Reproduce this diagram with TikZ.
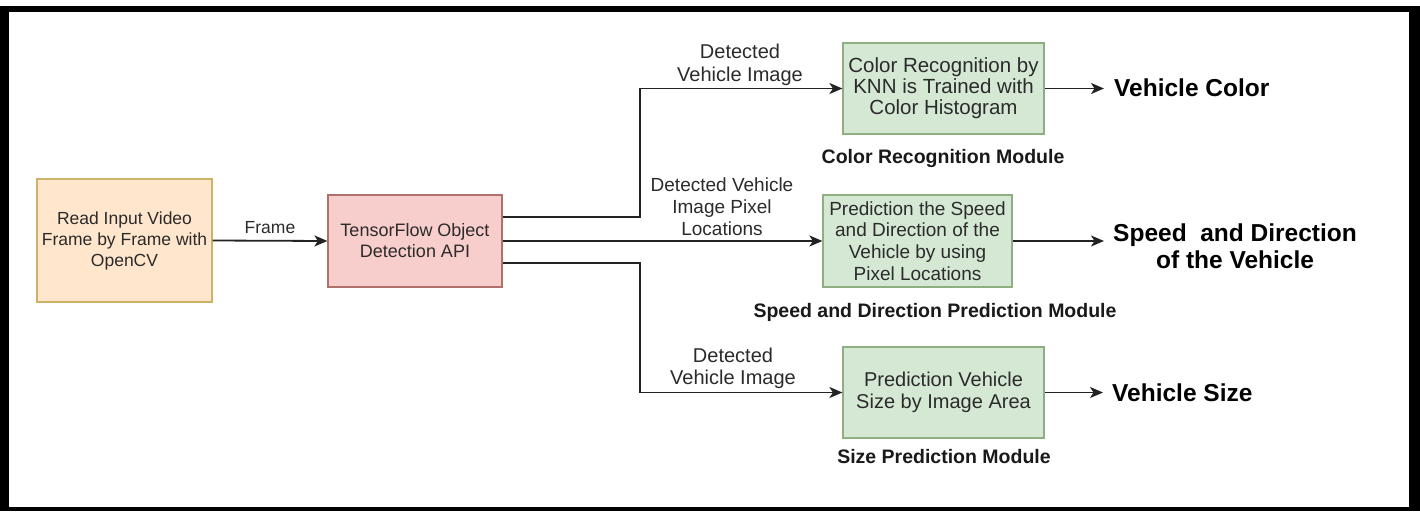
\documentclass[tikz,border=0pt]{standalone}
\usepackage{fontspec}
\setmainfont{Liberation Sans}
\usetikzlibrary{arrows.meta,calc}
\definecolor{txt}{HTML}{2B2B2B}
\definecolor{orfill}{HTML}{FFE6CC}
\definecolor{ordraw}{HTML}{CDB36A}
\definecolor{rdfill}{HTML}{F8CECC}
\definecolor{rddraw}{HTML}{B0706C}
\definecolor{grfill}{HTML}{D5E8D4}
\definecolor{grdraw}{HTML}{8FAE82}
\definecolor{ln}{HTML}{222222}
\tikzset{
  boxtext/.style={text=txt, align=center, inner sep=0pt, line width=1.2pt},
  orbox/.style={boxtext, font=\fontsize{17.5}{21}\selectfont, fill=orfill, draw=ordraw, minimum width=175pt, minimum height=123pt},
  rdbox/.style={boxtext, font=\fontsize{18}{21}\selectfont, fill=rdfill, draw=rddraw, minimum width=174pt, minimum height=92pt},
  grbox/.style={boxtext, fill=grfill, draw=grdraw},
  elabel/.style={text=txt, align=center, inner sep=0pt},
  modlabel/.style={font=\bfseries\fontsize{19.5}{21}\selectfont, text=black!90, inner sep=0pt},
  outlabel/.style={font=\bfseries\fontsize{24.5}{27}\selectfont, text=black, align=center, inner sep=0pt},
  arr/.style={draw=ln, line width=1.8pt, -{Stealth[length=13pt,width=11pt,inset=3.5pt]}}
}
\begin{document}
\begin{tikzpicture}[x=1pt,y=-1pt]
\useasboundingbox (0,0) rectangle (1420,511);
% frame
\fill[white] (0,0) rectangle (1420,511);
\fill[black] (0,6) rectangle (1420,511);
\fill[white] (9,12) rectangle (1409,507);

% boxes
\node[orbox] (read) at (124.5,240.5) {Read Input Video\\Frame by Frame with\\OpenCV};
\node[rdbox] (tf) at (415,241) {TensorFlow Object\\Detection API};
\node[grbox, font=\fontsize{20.5}{21}\selectfont, minimum width=201pt, minimum height=91pt] (g1) at (943.5,88.5) {Color Recognition by\\KNN is Trained with\\Color Histogram};
\node[grbox, font=\fontsize{19}{21.7}\selectfont, minimum width=189pt, minimum height=92pt] (g2) at (917.5,241) {Prediction the Speed\\and Direction of the\\Vehicle by using\\Pixel Locations};
\node[grbox, font=\fontsize{20}{22}\selectfont, minimum width=201pt, minimum height=91pt] (g3) at (943.5,392.5) {Prediction Vehicle\\Size by Image Area};

% module labels
\node[modlabel] (m1) at (943,158) {Color Recognition Module};
\node[modlabel] (m2) at (935,312) {Speed and Direction Prediction Module};
\node[modlabel] (m3) at (944,457) {Size Prediction Module};

% outputs
\node[outlabel, anchor=west] (o1) at (1114,88) {Vehicle Color};
\node[outlabel, anchor=west] (o2) at (1113,246.5) {Speed\ \ and Direction\\of the Vehicle};
\node[outlabel, anchor=west] (o3) at (1112,393) {Vehicle Size};

% junctions
\coordinate (j1) at (640,88.5);
\coordinate (j3) at (640,392.5);

% connectors
\draw[arr] (read.east) -- (tf.west);
\node[elabel, font=\fontsize{17.5}{21}\selectfont] (lf) at (270,228) {Frame};

\draw[arr] ([yshift=24pt]tf.east) -| (j1) -- (g1.west);
\draw[arr] (tf.east) -- (g2.west);
\draw[arr] ([yshift=-22pt]tf.east) -| (j3) -- (g3.west);

\node[elabel, font=\fontsize{20}{23}\selectfont] (l1) at (740,64.5) {Detected\\Vehicle Image};
\node[elabel, font=\fontsize{19}{22}\selectfont] (l2) at (722,207) {Detected Vehicle\\Image Pixel\\Locations};
\node[elabel, font=\fontsize{20}{22}\selectfont] (l3) at (733,368) {Detected\\Vehicle Image};

\draw[arr] (g1.east) -- ([xshift=-10pt]g1.east -| o1.west);
\draw[arr] (g2.east) -- ([xshift=-9pt]g2.east -| o2.west);
\draw[arr] (g3.east) -- ([xshift=-9pt]g3.east -| o3.west);
\end{tikzpicture}
\end{document}
